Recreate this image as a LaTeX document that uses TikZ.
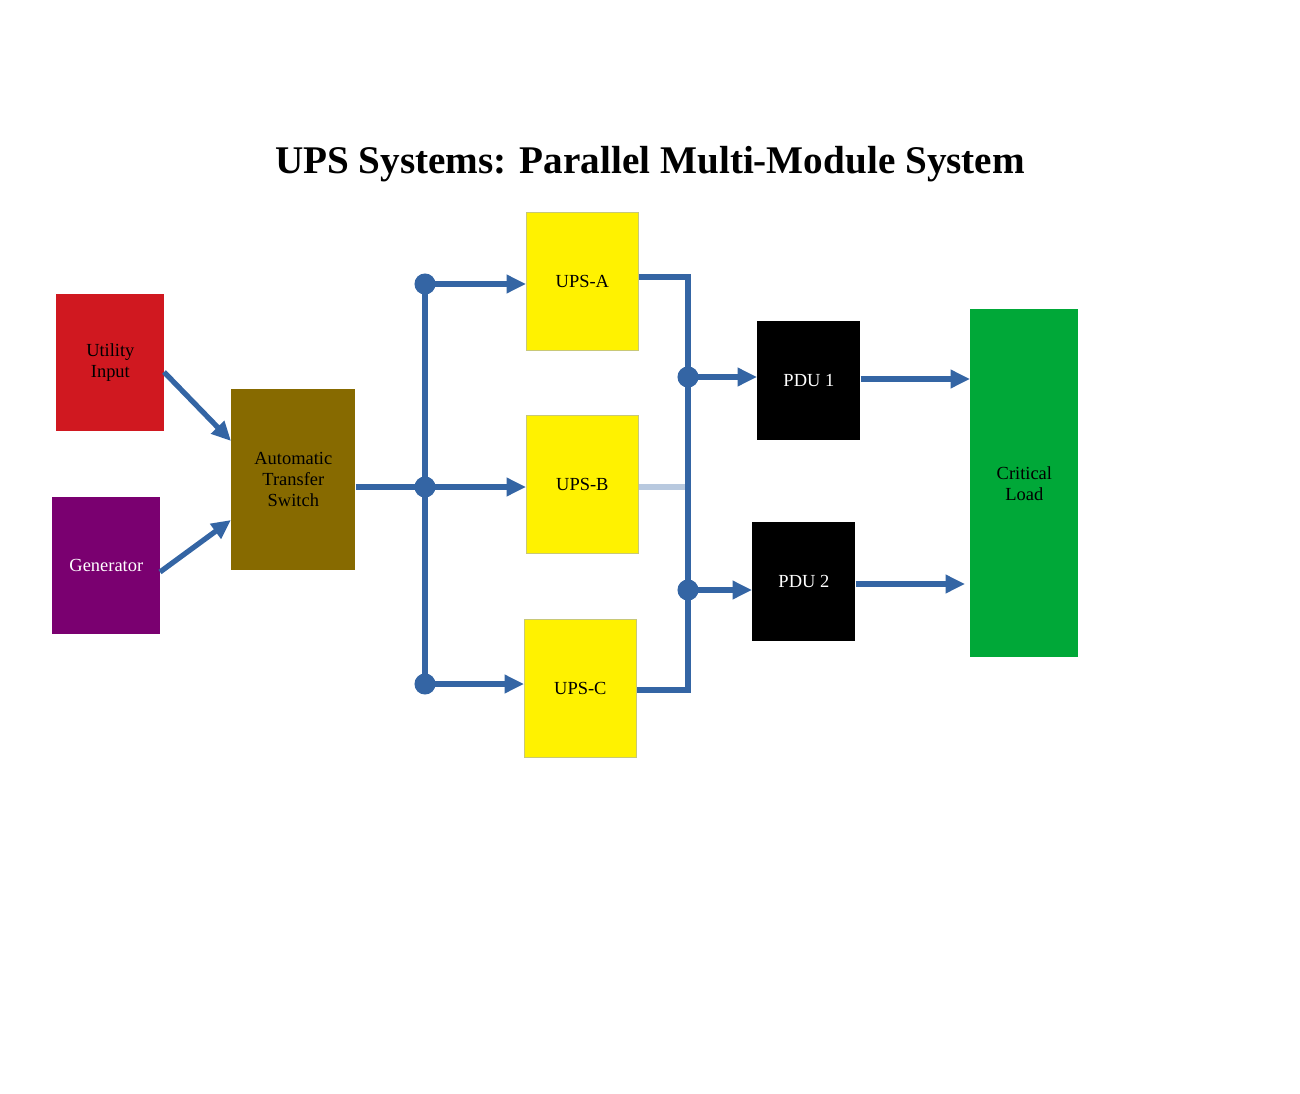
\documentclass[tikz,border=0pt]{standalone}
\usepackage{fontspec}
\setmainfont{Liberation Serif}
\usetikzlibrary{arrows.meta}
\definecolor{wire}{HTML}{3465A4}
\begin{document}
\begin{tikzpicture}[x=0.02cm,y=-0.02cm,
  blk/.style={draw=none,anchor=north west,inner sep=0,align=center,font=\fontsize{10.5}{12}\selectfont},
  wr/.style={draw=wire,line width=3pt},
  ar/.style={wr,-{Triangle[length=11pt,width=10pt]}},
  dot/.style={circle,fill=wire,inner sep=0,minimum size=12pt}]
\useasboundingbox (0,0) rectangle (1300,1094);
\node[font=\bfseries\fontsize{22.3}{24}\selectfont] (title) at (650,164) {UPS Systems: Parallel Multi-Module System};
\node[blk,fill={rgb,255:red,208;green,24;blue,32},minimum width=108*0.02cm,minimum height=137*0.02cm] (ui) at (56,294) {Utility\\Input};
\node[blk,fill={rgb,255:red,122;green,0;blue,112},text=white,minimum width=108*0.02cm,minimum height=137*0.02cm] (gen) at (52,497) {Generator};
\node[blk,fill={rgb,255:red,135;green,106;blue,0},minimum width=124*0.02cm,minimum height=181*0.02cm] (ats) at (231,389) {Automatic\\Transfer\\Switch};
\node[blk,fill=yellow,draw={rgb,255:red,200;green,200;blue,120},minimum width=112*0.02cm,minimum height=138*0.02cm] (ua) at (526,212) {UPS-A};
\node[blk,fill=yellow,draw={rgb,255:red,200;green,200;blue,120},minimum width=112*0.02cm,minimum height=138*0.02cm] (ub) at (526,415) {UPS-B};
\node[blk,fill=yellow,draw={rgb,255:red,200;green,200;blue,120},minimum width=112*0.02cm,minimum height=138*0.02cm] (uc) at (524,619) {UPS-C};
\node[blk,fill=black,text=white,minimum width=103*0.02cm,minimum height=119*0.02cm] (p1) at (757,321) {PDU 1};
\node[blk,fill=black,text=white,minimum width=103*0.02cm,minimum height=119*0.02cm] (p2) at (752,522) {PDU 2};
\node[blk,fill={rgb,255:red,0;green,168;blue,56},minimum width=108*0.02cm,minimum height=348*0.02cm] (cl) at (970,309) {Critical\\Load};
\coordinate (uo) at (164,372); \coordinate (ai1) at (231,441);
\coordinate (go) at (160,572); \coordinate (ai2) at (231,520);
\draw[ar] (uo) -- (ai1);
\draw[ar] (go) -- (ai2);
\coordinate (b1) at (425,284); \coordinate (b2) at (425,487); \coordinate (b3) at (425,684);
\draw[wr] (b1) -- (b3);
\draw[wr] (ats.east |- b2) -- (b2);
\draw[ar] (b1) -- (ua.west |- b1);
\draw[ar] (b2) -- (ub.west |- b2);
\draw[ar] (b3) -- (uc.west |- b3);
\node[dot] at (b1) {}; \node[dot] at (b2) {}; \node[dot] at (b3) {};
\coordinate (o1) at (688,277); \coordinate (o2) at (688,487); \coordinate (o3) at (688,690);
\coordinate (d1) at (688,377); \coordinate (d2) at (688,590);
\draw[wr] (ua.east |- o1) -- (o1) -- (o3) -- (uc.east |- o3);
\draw[wr,draw opacity=0.35] (ub.east |- o2) -- (o2);
\draw[ar] (d1) -- (p1.west |- d1);
\draw[ar] (d2) -- (p2.west |- d2);
\node[dot] at (d1) {}; \node[dot] at (d2) {};
\draw[ar] (p1.east |- 0,379) -- (cl.west |- 0,379);
\draw[ar] (p2.east |- 0,584) -- (965,584);
\end{tikzpicture}
\end{document}
